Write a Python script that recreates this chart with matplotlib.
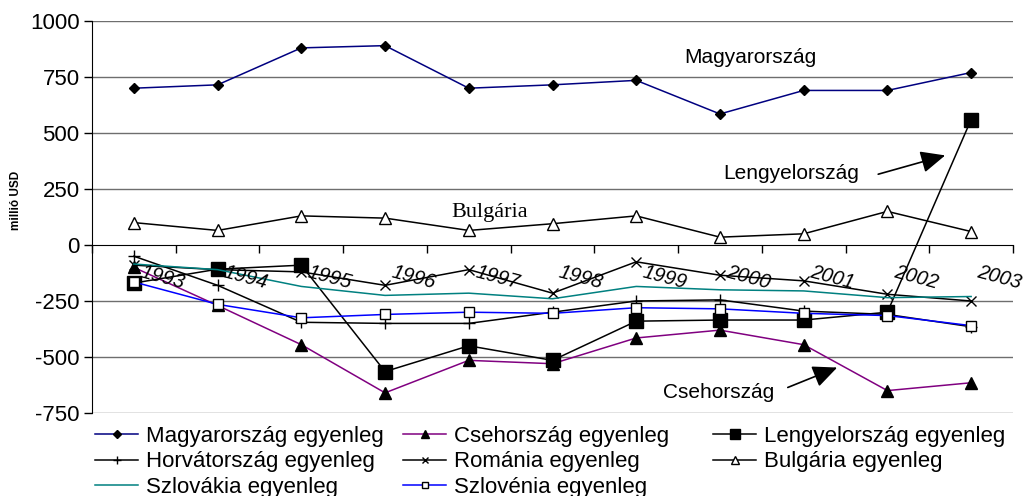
import matplotlib
matplotlib.use("Agg")
import matplotlib.pyplot as plt

plt.rcParams['font.family'] = ['Liberation Sans', 'DejaVu Sans']
plt.rcParams['axes.unicode_minus'] = False

# data (millió USD)
years = ['1993', '1994', '1995', '1996', '1997', '1998', '1999', '2000', '2001', '2002', '2003']
magyar = [700, 715, 880, 890, 700, 715, 735, 585, 690, 690, 770]
cseh = [-100, -270, -445, -660, -515, -530, -415, -380, -445, -650, -615]
lengyel = [-170, -108, -90, -565, -450, -515, -340, -335, -335, -300, 560]
horvat = [-50, -180, -345, -350, -350, -300, -250, -245, -295, -310, -365]
roman = [-90, -110, -120, -180, -110, -215, -75, -135, -160, -220, -250]
bulgar = [100, 65, 130, 120, 65, 95, 130, 35, 50, 150, 60]
szlovak = [-85, -110, -185, -225, -215, -240, -185, -200, -205, -235, -230]
szloven = [-165, -265, -325, -310, -300, -305, -280, -285, -305, -315, -360]

x = list(range(len(years)))

fig = plt.figure(figsize=(10.23, 4.96), dpi=100)
ax = fig.add_axes([92 / 1023, 1 - 413 / 496, (1013 - 92) / 1023, (413 - 21) / 496])

# gridlines
for v in [-750, -500, -250, 250, 500, 750, 1000]:
    ax.axhline(v, color='#6e6e6e', lw=1.0, zorder=0)

h_mag, = ax.plot(x, magyar, color='#000080', lw=1.1, marker='D', ms=5.5,
                 mfc='black', mec='black', label='Magyarország egyenleg')
h_cse, = ax.plot(x, cseh, color='#800080', lw=1.1, marker='^', ms=8,
                 mfc='black', mec='black', label='Csehország egyenleg')
h_len, = ax.plot(x, lengyel, color='black', lw=1.1, marker='s', ms=10,
                 mfc='black', mec='black', label='Lengyelország egyenleg')
h_hor, = ax.plot(x, horvat, color='black', lw=1.1, marker='+', ms=9,
                 mew=1.0, mec='black', label='Horvátország egyenleg')
h_rom, = ax.plot(x, roman, color='black', lw=1.1, marker='x', ms=7,
                 mew=1.0, mec='black', label='Románia egyenleg')
h_bul, = ax.plot(x, bulgar, color='black', lw=1.1, marker='^', ms=8,
                 mfc='white', mec='black', mew=1.0, label='Bulgária egyenleg')
h_szk, = ax.plot(x, szlovak, color='#008080', lw=1.1, label='Szlovákia egyenleg')
h_szn, = ax.plot(x, szloven, color='#0000ff', lw=1.1, marker='s', ms=6.5,
                 mfc='white', mec='black', mew=1.0, label='Szlovénia egyenleg')

ax.set_xlim(-0.5, len(years) - 0.5)
ax.set_ylim(-750, 1000)
ax.set_yticks([-750, -500, -250, 0, 250, 500, 750, 1000])
ax.tick_params(axis='y', labelsize=16, length=6, width=1, direction='out', pad=3)

# category axis crossing at 0
ax.spines['top'].set_visible(False)
ax.spines['right'].set_visible(False)
ax.spines['bottom'].set_position(('data', 0))
ax.set_xticks([i - 0.5 for i in range(len(years) + 1)])
ax.set_xticklabels([])
ax.tick_params(axis='x', length=6, width=1, direction='out')

# year labels, slanted next to each point
for i, yr in enumerate(years):
    ax.text(i + 0.08, -120, yr, rotation=-15, rotation_mode='anchor',
            ha='left', va='center', fontsize=14.5, style='italic')

ax.set_ylabel('millió USD', fontsize=8.5, fontweight='bold')
ax.yaxis.set_label_coords(-0.076, 0.541)

# series annotations
ax.text(7.36, 836, 'Magyarország', fontsize=15, ha='center', va='center')
ax.text(4.25, 147, 'Bulgária', fontsize=16, ha='center', va='center',
        family=['Liberation Serif', 'DejaVu Serif'])
ax.text(7.85, 320, 'Lengyelország', fontsize=15, ha='center', va='center')
ax.text(6.98, -658, 'Csehország', fontsize=15, ha='center', va='center')
ax.annotate('', xy=(9.69, 400), xytext=(8.89, 316),
            arrowprops=dict(arrowstyle='-|>,head_length=1.0,head_width=0.45',
                            color='black', lw=1.2, mutation_scale=15,
                            shrinkA=0, shrinkB=0))
ax.annotate('', xy=(8.40, -547), xytext=(7.81, -636),
            arrowprops=dict(arrowstyle='-|>,head_length=1.0,head_width=0.45',
                            color='black', lw=1.2, mutation_scale=15,
                            shrinkA=0, shrinkB=0))

# legend in three columns
cols = [([h_mag, h_hor, h_szk], 95), ([h_cse, h_rom, h_szn], 403), ([h_len, h_bul], 713)]
for handles, left in cols:
    fig.legend(handles=handles, loc='upper left',
               bbox_to_anchor=(left / 1023, 1 - 426 / 496),
               frameon=False, fontsize=16, borderpad=0, borderaxespad=0,
               handlelength=1.95, handletextpad=0.33, labelspacing=0.2,
               markerscale=0.7)

fig.savefig('out.png', dpi=100)
